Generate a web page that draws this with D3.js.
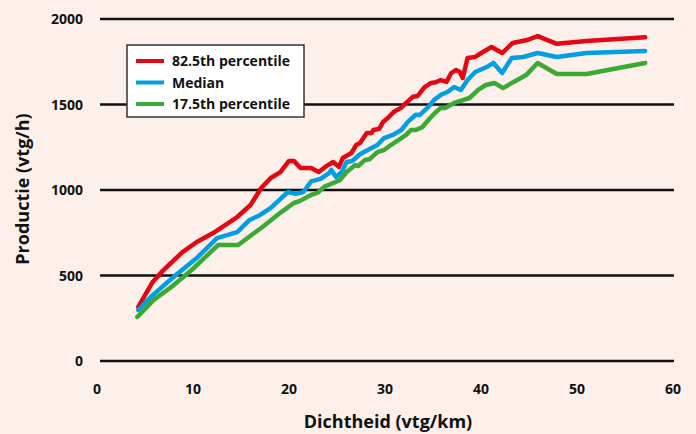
<!DOCTYPE html>
<html>
<head>
<meta charset="utf-8">
<script src="https://cdn.jsdelivr.net/npm/d3@7"></script>
<style>
  body { margin: 0; background: #fdf0eb; }
  text { font-family: "Open Sans", Lato, sans-serif; font-weight: 700; fill: #111; }
</style>
</head>
<body>
<svg width="696" height="434"></svg>
<script>
// density (vtg/km) and production (vtg/h)
var seriesNames = ["82.5th percentile", "Median", "17.5th percentile"];
var seriesColors = ["#e30613", "#009fe3", "#3aaa35"];

var p825 = [
  [4.3,316],[5.8,462],[6.9,530],[8.9,637],[10.4,696],[12.1,748],[14.6,842],[16,912],
  [17.1,1012],[18.1,1070],[19.1,1105],[20,1170],[20.5,1170],[21.2,1129],[22.3,1129],
  [23.1,1105],[23.9,1140],[24.6,1164],[25.2,1135],[25.6,1187],[26.5,1216],[27,1263],
  [27.4,1275],[28.1,1333],[28.6,1333],[28.8,1351],[29.4,1358],[29.8,1398],[30.3,1421],
  [30.9,1456],[31.7,1482],[32.2,1509],[32.9,1545],[33.4,1550],[34.1,1600],[34.8,1626],
  [35.3,1630],[35.8,1643],[36.4,1632],[36.9,1684],[37.4,1702],[37.8,1690],[38.1,1655],
  [38.6,1772],[39.4,1778],[40.2,1807],[41.1,1836],[42.2,1801],[43.3,1860],[44.8,1877],
  [45.9,1900],[47.9,1855],[51,1871],[57.1,1893]
];
var median = [
  [4.3,298],[5.6,374],[7,444],[8.6,520],[10.4,602],[12.5,719],[14.6,754],[15.9,825],
  [17,854],[18.1,895],[19.2,953],[19.9,988],[20.7,977],[21.5,988],[22.3,1050],[23.3,1065],
  [24.2,1100],[24.4,1117],[24.9,1076],[25.5,1105],[26,1164],[26.6,1170],[27.3,1205],
  [27.8,1222],[28.6,1246],[29.2,1263],[29.9,1304],[30.8,1322],[31.7,1351],[32.4,1400],
  [33.2,1440],[33.6,1438],[34.5,1485],[35.1,1526],[35.8,1556],[36.5,1573],[37.2,1602],
  [37.9,1585],[38.6,1643],[39.4,1690],[40.6,1719],[41.3,1743],[42.2,1684],[43.2,1772],
  [44.4,1778],[45.9,1801],[47.9,1778],[51,1801],[57.1,1813]
];
var p175 = [
  [4.2,257],[5.9,357],[8,444],[10.1,544],[12.6,678],[14.7,678],[17.1,778],[19.2,871],
  [20.5,924],[21.1,935],[22.3,971],[23,985],[23.7,1020],[24.6,1041],[25.3,1058],[26,1105],
  [26.9,1146],[27.2,1140],[27.9,1175],[28.4,1180],[29.2,1222],[29.9,1234],[30.6,1263],
  [31.4,1292],[32.2,1322],[32.7,1351],[33.2,1351],[33.9,1368],[34.7,1421],[35.2,1450],
  [35.8,1480],[36.3,1480],[37.2,1509],[38.1,1526],[38.8,1538],[39.7,1585],[40.5,1614],
  [41.4,1626],[42.3,1596],[43.4,1632],[44.7,1672],[45.9,1743],[47.9,1678],[51,1678],
  [57.1,1743]
];
var xTicks = [0, 10, 20, 30, 40, 50, 60];
var yTicks = [0, 500, 1000, 1500, 2000];

var svg = d3.select("svg");

var x = d3.scaleLinear().domain([0, 60]).range([97, 673]);
var y = d3.scaleLinear().domain([0, 2000]).range([361, 19]);

// gridlines
svg.append("g")
  .selectAll("line")
  .data(yTicks)
  .enter()
  .append("line")
  .attr("x1", 100)
  .attr("x2", 674)
  .attr("y1", function (d) { return y(d); })
  .attr("y2", function (d) { return y(d); })
  .attr("stroke", "#111")
  .attr("stroke-width", 2.5);

// y tick labels
svg.append("g")
  .selectAll("text")
  .data(yTicks)
  .enter()
  .append("text")
  .attr("x", 83)
  .attr("y", function (d) { return y(d) + 5; })
  .attr("text-anchor", "end")
  .attr("font-size", 14)
  .text(function (d) { return d; });

// x tick labels
svg.append("g")
  .selectAll("text")
  .data(xTicks)
  .enter()
  .append("text")
  .attr("x", function (d) { return x(d); })
  .attr("y", 394)
  .attr("text-anchor", "middle")
  .attr("font-size", 14)
  .text(function (d) { return d; });

// axis titles
svg.append("text")
  .attr("x", 388)
  .attr("y", 428)
  .attr("text-anchor", "middle")
  .attr("font-size", 18)
  .text("Dichtheid (vtg/km)");

svg.append("text")
  .attr("transform", "translate(29,189) rotate(-90)")
  .attr("text-anchor", "middle")
  .attr("font-size", 18)
  .text("Productie (vtg/h)");

// lines
var line = d3.line()
  .x(function (d) { return x(d[0]); })
  .y(function (d) { return y(d[1]); });

[p825, median, p175].forEach(function (s, i) {
  svg.append("path")
    .datum(s)
    .attr("fill", "none")
    .attr("stroke", seriesColors[i])
    .attr("stroke-width", 4.5)
    .attr("stroke-linejoin", "round")
    .attr("stroke-linecap", "round")
    .attr("d", line);
});

// legend
var legend = svg.append("g");
legend.append("rect")
  .attr("x", 127)
  .attr("y", 45)
  .attr("width", 177)
  .attr("height", 72)
  .attr("fill", "#fff")
  .attr("stroke", "#333")
  .attr("stroke-width", 1.5);

seriesNames.forEach(function (name, i) {
  var ly = 61 + i * 21.5;
  legend.append("line")
    .attr("x1", 136)
    .attr("x2", 164)
    .attr("y1", ly)
    .attr("y2", ly)
    .attr("stroke", seriesColors[i])
    .attr("stroke-width", 4);
  legend.append("text")
    .attr("x", 172)
    .attr("y", ly + 5)
    .attr("font-size", 14)
    .text(name);
});
</script>
</body>
</html>
